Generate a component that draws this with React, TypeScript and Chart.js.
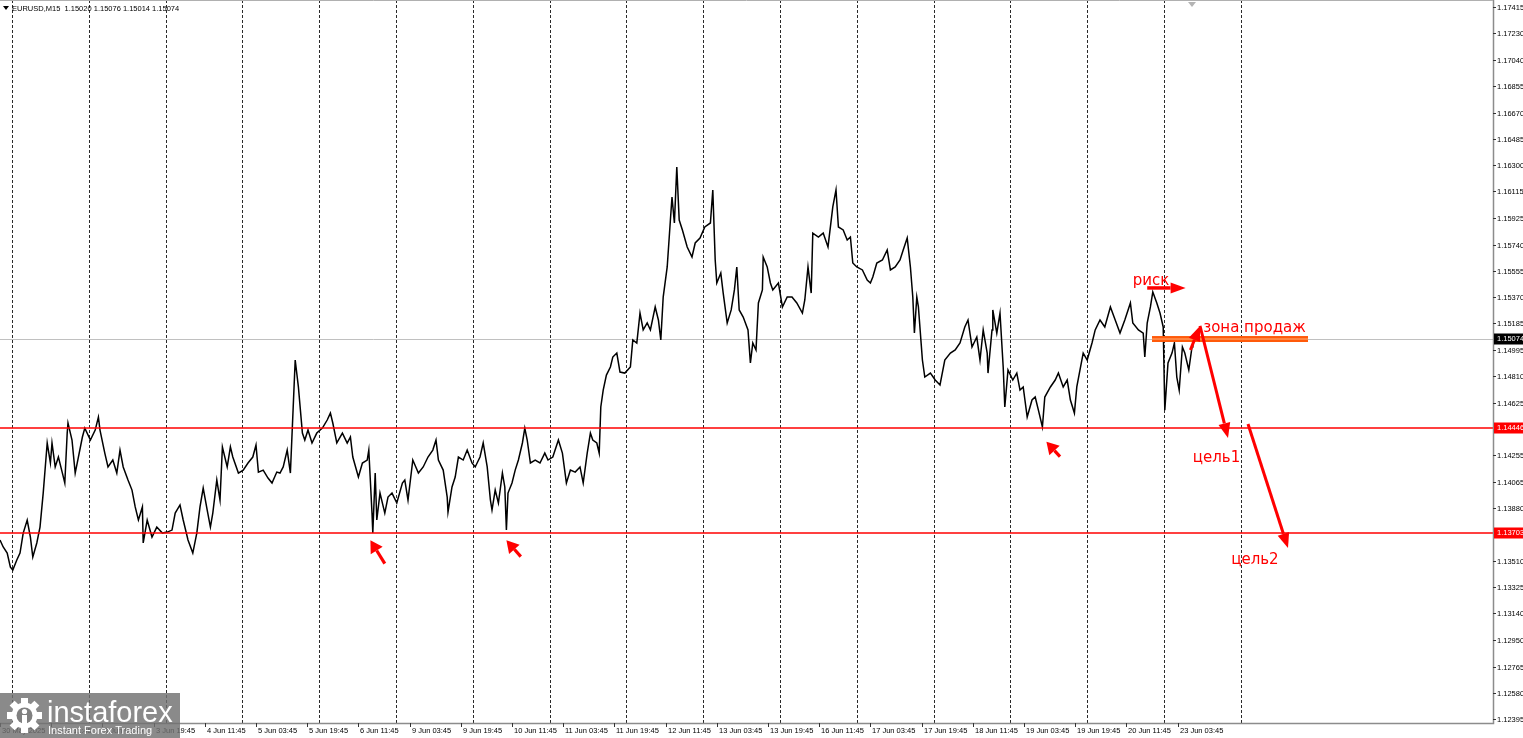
import React, { useEffect, useRef } from "react";
import { Chart, registerables } from "chart.js";
Chart.register(...registerables);

const W = 1523;
const H = 738;

const headerText = "EURUSD,M15  1.15020 1.15076 1.15014 1.15074";

const timeLabels = [
  "30 May 2025", "2 Jun 11:45", "3 Jun 03:45", "3 Jun 19:45", "4 Jun 11:45", "5 Jun 03:45",
  "5 Jun 19:45", "6 Jun 11:45", "9 Jun 03:45", "9 Jun 19:45", "10 Jun 11:45", "11 Jun 03:45",
  "11 Jun 19:45", "12 Jun 11:45", "13 Jun 03:45", "13 Jun 19:45", "16 Jun 11:45", "17 Jun 03:45",
  "17 Jun 19:45", "18 Jun 11:45", "19 Jun 03:45", "19 Jun 19:45", "20 Jun 11:45", "23 Jun 03:45",
];
const timeLabelBars = [
  0, 64, 128, 192, 256, 320, 384, 448, 512, 576, 640, 704,
  768, 832, 896, 960, 1024, 1088, 1152, 1216, 1280, 1344, 1408, 1472,
];
const dayStartBars = [15, 111, 207, 303, 399, 495, 591, 687, 783, 879, 975, 1071, 1167, 1263, 1359, 1455, 1551];

const priceTicks = [
  1.17415, 1.1723, 1.1704, 1.16855, 1.1667, 1.16485, 1.163, 1.16115, 1.15925, 1.1574,
  1.15555, 1.1537, 1.15185, 1.14995, 1.1481, 1.14625, 1.14255, 1.14065, 1.1388,
  1.1351, 1.13325, 1.1314, 1.1295, 1.12765, 1.1258, 1.12395,
];
const levelPrices = [1.14446, 1.13703];
const bidPrice = 1.15074;
const barRange = [0, 1866.25];
const priceRange = [1.12367, 1.17464];
const shiftMarkerBar = 1490;

// [bar index, close]
const eurusdCloses: [number, number][] = [
  [0, 1.13657], [4, 1.13608], [9, 1.13565], [13, 1.13466], [16, 1.13445], [21, 1.13516], [25, 1.13565],
  [29, 1.13706], [34, 1.13798], [38, 1.13678], [41, 1.13537], [46, 1.13636], [50, 1.13748], [54, 1.13988],
  [59, 1.14341], [63, 1.142], [65, 1.14341], [69, 1.14172], [73, 1.14242], [78, 1.14129], [81, 1.14059],
  [84, 1.14411], [85, 1.14482], [90, 1.14362], [94, 1.14129], [98, 1.14242], [103, 1.14383], [106, 1.14446],
  [113, 1.14362], [119, 1.14432], [123, 1.14524], [125, 1.14432], [131, 1.1427], [135, 1.14172], [141, 1.14221],
  [146, 1.14129], [150, 1.14291], [154, 1.14172], [160, 1.1408], [165, 1.14009], [169, 1.1389], [173, 1.13798],
  [178, 1.1389], [179, 1.13636], [184, 1.13798], [190, 1.13678], [196, 1.13748], [203, 1.13706], [209, 1.13713],
  [215, 1.13727], [219, 1.13847], [225, 1.13904], [229, 1.13798], [235, 1.13657], [241, 1.13565], [246, 1.13706],
  [250, 1.1389], [254, 1.14023], [259, 1.13868], [263, 1.13748], [266, 1.13847], [271, 1.1408], [275, 1.13939],
  [278, 1.14313], [284, 1.14172], [288, 1.14313], [291, 1.14242], [298, 1.14129], [304, 1.1415], [310, 1.142],
  [316, 1.14242], [320, 1.14327], [323, 1.14136], [329, 1.1415], [335, 1.14094], [340, 1.14059], [346, 1.14136],
  [350, 1.14129], [354, 1.14172], [359, 1.14291], [363, 1.14129], [369, 1.14926], [373, 1.14736], [378, 1.14411],
  [381, 1.14362], [385, 1.14432], [390, 1.14341], [396, 1.14411], [403, 1.14446], [409, 1.14503], [413, 1.14552],
  [416, 1.14482], [421, 1.14341], [428, 1.14411], [434, 1.14341], [438, 1.14383], [441, 1.14242], [448, 1.14101],
  [453, 1.142], [459, 1.14221], [461, 1.14291], [465, 1.13847], [466, 1.13706], [469, 1.14129], [471, 1.13798],
  [475, 1.13988], [481, 1.13847], [485, 1.1396], [490, 1.13988], [496, 1.13918], [503, 1.14059], [506, 1.1408],
  [510, 1.13939], [516, 1.14221], [523, 1.14129], [529, 1.14172], [535, 1.14242], [541, 1.14291], [545, 1.14362],
  [548, 1.14221], [554, 1.1415], [559, 1.1396], [560, 1.13854], [565, 1.14031], [569, 1.14101], [573, 1.14242],
  [579, 1.14221], [584, 1.14291], [590, 1.142], [594, 1.14172], [600, 1.14242], [604, 1.14341], [609, 1.14172],
  [613, 1.13939], [615, 1.13868], [619, 1.14009], [623, 1.13918], [628, 1.14129], [631, 1.14031], [633, 1.13727],
  [635, 1.13988], [640, 1.14059], [644, 1.1415], [648, 1.14221], [653, 1.14341], [656, 1.14446], [659, 1.14362],
  [663, 1.142], [669, 1.14221], [675, 1.142], [681, 1.1427], [685, 1.14221], [691, 1.14242], [698, 1.14362],
  [703, 1.1427], [708, 1.14059], [713, 1.1415], [719, 1.14136], [725, 1.14172], [729, 1.14059], [734, 1.1427],
  [738, 1.14411], [741, 1.14362], [746, 1.14341], [749, 1.1427], [751, 1.14595], [754, 1.14714], [758, 1.1482],
  [763, 1.14877], [766, 1.14947], [771, 1.14975], [775, 1.14841], [781, 1.14834], [788, 1.14877], [791, 1.15067],
  [796, 1.15046], [800, 1.15257], [804, 1.15138], [809, 1.15187], [813, 1.15138], [819, 1.153], [823, 1.15208],
  [826, 1.15067], [829, 1.1537], [834, 1.15582], [838, 1.15913], [840, 1.16075], [843, 1.15892], [846, 1.16287],
  [849, 1.15913], [853, 1.15843], [859, 1.15723], [865, 1.15652], [869, 1.15751], [875, 1.15786], [881, 1.15864],
  [888, 1.15892], [891, 1.16125], [894, 1.15631], [896, 1.15469], [901, 1.15539], [904, 1.15398], [909, 1.15187],
  [914, 1.15279], [918, 1.1542], [921, 1.15582], [924, 1.15279], [929, 1.15229], [935, 1.15138], [938, 1.14905],
  [941, 1.15046], [945, 1.14997], [948, 1.15328], [953, 1.1542], [954, 1.15652], [959, 1.15582], [963, 1.15469],
  [966, 1.1542], [973, 1.15469], [978, 1.153], [984, 1.1537], [990, 1.1537], [996, 1.15328], [1003, 1.15257],
  [1006, 1.15349], [1010, 1.15582], [1014, 1.15398], [1016, 1.15821], [1023, 1.15793], [1029, 1.15821], [1035, 1.15723],
  [1041, 1.16005], [1045, 1.16125], [1048, 1.15864], [1054, 1.15843], [1059, 1.15772], [1063, 1.15793], [1066, 1.1561],
  [1071, 1.15582], [1078, 1.15561], [1084, 1.1549], [1088, 1.15469], [1091, 1.15511], [1096, 1.1561], [1103, 1.15631],
  [1109, 1.15702], [1113, 1.15561], [1119, 1.15582], [1125, 1.15631], [1129, 1.15702], [1134, 1.15786], [1138, 1.15582],
  [1141, 1.1537], [1143, 1.15116], [1146, 1.1537], [1148, 1.153], [1153, 1.14926], [1156, 1.14806], [1163, 1.14834],
  [1169, 1.14785], [1175, 1.1475], [1181, 1.14926], [1188, 1.14975], [1194, 1.14997], [1200, 1.15046], [1206, 1.15159],
  [1210, 1.15208], [1215, 1.15018], [1221, 1.15088], [1225, 1.14926], [1229, 1.15138], [1234, 1.14975], [1235, 1.14834],
  [1240, 1.15138], [1241, 1.15279], [1246, 1.15116], [1250, 1.15257], [1254, 1.14877], [1256, 1.14595], [1260, 1.14856],
  [1266, 1.14785], [1271, 1.14834], [1275, 1.14714], [1279, 1.14736], [1284, 1.14524], [1290, 1.14644], [1294, 1.14665],
  [1298, 1.14573], [1303, 1.14454], [1306, 1.14665], [1313, 1.14736], [1319, 1.14785], [1323, 1.14834], [1329, 1.14736],
  [1334, 1.14785], [1338, 1.14644], [1343, 1.14552], [1346, 1.14736], [1350, 1.14856], [1354, 1.14975], [1359, 1.14926],
  [1365, 1.15046], [1369, 1.15138], [1375, 1.15208], [1381, 1.15159], [1388, 1.153], [1394, 1.15208], [1400, 1.15116],
  [1406, 1.15208], [1413, 1.15328], [1416, 1.15187], [1423, 1.15138], [1429, 1.15116], [1431, 1.14947], [1434, 1.15187],
  [1438, 1.153], [1441, 1.15406], [1446, 1.15328], [1450, 1.15257], [1454, 1.15159], [1456, 1.14573], [1460, 1.14905],
  [1465, 1.14975], [1468, 1.15046], [1471, 1.14806], [1474, 1.14714], [1478, 1.15018], [1481, 1.14975], [1486, 1.14856],
  [1490, 1.15018], [1491, 1.15074],
];

// annotations in (bar, price)
const riskArrow = { from: [1434, 1.15434], to: [1482, 1.15434] };
const sellZoneBars = [1440, 1635];
const sellZonePrices = [1.15053, 1.15095];
const tradeArrows = [
  { from: [1488, 1.14997], to: [1500, 1.15166] },
  { from: [1500, 1.15166], to: [1535, 1.14376] },
  { from: [1560, 1.14475], to: [1610, 1.136] },
];
const markerArrows = [
  { from: [481, 1.13490], to: [463, 1.13655] },
  { from: [651, 1.13540], to: [633, 1.13655] },
  { from: [1325, 1.14245], to: [1308, 1.14350] },
];
const notes = [
  { text: "риск", bar: 1416, price: 1.15455 },
  { text: "зона продаж", bar: 1504, price: 1.15123 },
  { text: "цель1", bar: 1491, price: 1.14207 },
  { text: "цель2", bar: 1539, price: 1.13488 },
];

const SMALL = '7.5px "Liberation Sans", Arial, sans-serif';

function drawArrow(ctx: CanvasRenderingContext2D, x0: number, y0: number, x1: number, y1: number, lw: number, hl: number, hw: number) {
  const a = Math.atan2(y1 - y0, x1 - x0);
  const bx = x1 - hl * Math.cos(a);
  const by = y1 - hl * Math.sin(a);
  ctx.strokeStyle = "#ff0000";
  ctx.fillStyle = "#ff0000";
  ctx.lineWidth = lw;
  ctx.setLineDash([]);
  ctx.beginPath();
  ctx.moveTo(x0, y0);
  ctx.lineTo(bx, by);
  ctx.stroke();
  ctx.beginPath();
  ctx.moveTo(x1, y1);
  ctx.lineTo(bx + hw * Math.sin(a), by - hw * Math.cos(a));
  ctx.lineTo(bx - hw * Math.sin(a), by + hw * Math.cos(a));
  ctx.closePath();
  ctx.fill();
}

const mtPlugin = {
  id: "mt4",
  beforeDatasetsDraw(chart: any) {
    const { ctx, chartArea: a, scales } = chart;
    const xs = scales.x, ys = scales.y;
    ctx.save();
    ctx.strokeStyle = "#2a2a2a";
    ctx.lineWidth = 1;
    ctx.setLineDash([3, 2]);
    dayStartBars.forEach((b) => {
      const px = Math.round(xs.getPixelForValue(b)) + 0.5;
      ctx.beginPath();
      ctx.moveTo(px, a.top);
      ctx.lineTo(px, a.bottom);
      ctx.stroke();
    });
    ctx.setLineDash([]);
    const by = Math.round(ys.getPixelForValue(bidPrice)) + 0.5;
    ctx.strokeStyle = "#c0c0c0";
    ctx.beginPath();
    ctx.moveTo(a.left, by);
    ctx.lineTo(a.right, by);
    ctx.stroke();
    ctx.restore();
  },
  afterDatasetsDraw(chart: any) {
    const { ctx, chartArea: a, scales } = chart;
    const xs = scales.x, ys = scales.y;
    const X = (v: number) => xs.getPixelForValue(v);
    const Y = (v: number) => ys.getPixelForValue(v);
    ctx.save();

    ctx.strokeStyle = "#ff0000";
    ctx.lineWidth = 1.6;
    levelPrices.forEach((p) => {
      const py = Math.round(Y(p));
      ctx.beginPath();
      ctx.moveTo(a.left, py);
      ctx.lineTo(a.right, py);
      ctx.stroke();
    });

    const zx0 = X(sellZoneBars[0]), zx1 = X(sellZoneBars[1]);
    const zy0 = Y(sellZonePrices[1]), zy1 = Y(sellZonePrices[0]);
    ctx.fillStyle = "#ff5a0a";
    ctx.fillRect(zx0, zy0, zx1 - zx0, zy1 - zy0);
    ctx.strokeStyle = "#ffb27a";
    ctx.lineWidth = 1;
    ctx.beginPath();
    ctx.moveTo(zx0, (zy0 + zy1) / 2);
    ctx.lineTo(zx1, (zy0 + zy1) / 2);
    ctx.stroke();

    drawArrow(ctx, X(riskArrow.from[0]), Y(riskArrow.from[1]), X(riskArrow.to[0]), Y(riskArrow.to[1]), 3.5, 15, 5.5);
    tradeArrows.forEach((t) => drawArrow(ctx, X(t.from[0]), Y(t.from[1]), X(t.to[0]), Y(t.to[1]), 3, 15, 6));
    markerArrows.forEach((t) => drawArrow(ctx, X(t.from[0]), Y(t.from[1]), X(t.to[0]), Y(t.to[1]), 3.2, 12, 7));

    ctx.fillStyle = "#ff0000";
    ctx.font = '15px "DejaVu Sans", sans-serif';
    ctx.textBaseline = "alphabetic";
    ctx.textAlign = "left";
    notes.forEach((n) => ctx.fillText(n.text, X(n.bar), Y(n.price)));

    ctx.restore();
  },
  afterDraw(chart: any) {
    const { ctx, chartArea: a, scales } = chart;
    const xs = scales.x, ys = scales.y;
    ctx.save();
    ctx.setLineDash([]);

    ctx.strokeStyle = "#8c8c8c";
    ctx.lineWidth = 1.5;
    ctx.beginPath();
    ctx.moveTo(a.right + 0.5, 0);
    ctx.lineTo(a.right + 0.5, a.bottom + 0.5);
    ctx.lineTo(0, a.bottom + 0.5);
    ctx.stroke();
    ctx.strokeStyle = "#b0b0b0";
    ctx.lineWidth = 1;
    ctx.beginPath();
    ctx.moveTo(0, 0.5);
    ctx.lineTo(a.right, 0.5);
    ctx.stroke();

    ctx.font = SMALL;
    ctx.textBaseline = "middle";
    ctx.textAlign = "left";
    ctx.strokeStyle = "#333";
    ctx.lineWidth = 1;
    priceTicks.forEach((p) => {
      const py = Math.round(ys.getPixelForValue(p)) + 0.5;
      ctx.beginPath();
      ctx.moveTo(a.right, py);
      ctx.lineTo(a.right + 3, py);
      ctx.stroke();
      ctx.fillStyle = "#000";
      ctx.fillText(p.toFixed(5), a.right + 4, py);
    });
    levelPrices.forEach((p) => {
      const py = Math.round(ys.getPixelForValue(p));
      ctx.fillStyle = "#ff0000";
      ctx.fillRect(a.right + 1, py - 5.5, W - a.right, 11);
      ctx.fillStyle = "#ffffff";
      ctx.fillText(p.toFixed(5), a.right + 4, py);
    });
    const bpy = Math.round(ys.getPixelForValue(bidPrice));
    ctx.fillStyle = "#000";
    ctx.fillRect(a.right + 1, bpy - 5.5, W - a.right, 11);
    ctx.fillStyle = "#fff";
    ctx.fillText(bidPrice.toFixed(5), a.right + 4, bpy);

    ctx.strokeStyle = "#333";
    timeLabels.forEach((lbl, i) => {
      const px = Math.round(xs.getPixelForValue(timeLabelBars[i])) + 0.5;
      ctx.beginPath();
      ctx.moveTo(px, a.bottom);
      ctx.lineTo(px, a.bottom + 4);
      ctx.stroke();
      ctx.fillStyle = "#000";
      ctx.fillText(lbl, px + 1.5, a.bottom + 7.5);
    });

    ctx.fillStyle = "#000";
    ctx.beginPath();
    ctx.moveTo(3, 6);
    ctx.lineTo(9, 6);
    ctx.lineTo(6, 10);
    ctx.closePath();
    ctx.fill();
    ctx.fillText(headerText, 12, 8.5);

    const sx = xs.getPixelForValue(shiftMarkerBar);
    ctx.fillStyle = "#b4b4b4";
    ctx.beginPath();
    ctx.moveTo(sx - 4, 2);
    ctx.lineTo(sx + 4, 2);
    ctx.lineTo(sx, 7);
    ctx.closePath();
    ctx.fill();

    ctx.fillStyle = "rgba(112,112,112,0.82)";
    ctx.fillRect(0, 693, 180, 45);
    const cx = 24.5, cy = 715.5;
    ctx.fillStyle = "#ffffff";
    for (let k = 0; k < 8; k++) {
      ctx.save();
      ctx.translate(cx, cy);
      ctx.rotate((k * Math.PI) / 4);
      ctx.fillRect(-3.5, -17.5, 7, 8);
      ctx.restore();
    }
    ctx.beginPath();
    ctx.arc(cx, cy, 13, 0, Math.PI * 2);
    ctx.fill();
    ctx.fillStyle = "rgb(128,128,128)";
    ctx.beginPath();
    ctx.arc(cx, cy, 8, 0, Math.PI * 2);
    ctx.fill();
    ctx.fillStyle = "#ffffff";
    ctx.beginPath();
    ctx.arc(cx, cy - 4, 2.6, 0, Math.PI * 2);
    ctx.fill();
    ctx.fillRect(cx - 2.5, cy - 0.5, 5, 14);
    ctx.font = '29px "Liberation Sans", Arial, sans-serif';
    ctx.textBaseline = "alphabetic";
    ctx.fillText("instaforex", 47, 722);
    ctx.font = '11px "Liberation Sans", Arial, sans-serif';
    ctx.fillText("Instant Forex Trading", 48, 734);

    ctx.restore();
  },
};

export default function App() {
  const ref = useRef<HTMLCanvasElement>(null);
  useEffect(() => {
    document.body.style.margin = "0";
    const canvas = ref.current!;
    const chart = new Chart(canvas, {
      type: "line",
      data: {
        datasets: [
          {
            data: eurusdCloses.map(([b, c]) => ({ x: b, y: c })),
            borderColor: "#000000",
            borderWidth: 1.5,
            pointRadius: 0,
            tension: 0,
            fill: false,
          },
        ],
      },
      options: {
        animation: false,
        responsive: false,
        devicePixelRatio: 1,
        layout: { padding: { left: 0, top: 0, right: 30, bottom: 15 } },
        plugins: { legend: { display: false }, tooltip: { enabled: false } },
        scales: {
          x: { type: "linear", min: barRange[0], max: barRange[1], display: false },
          y: { type: "linear", min: priceRange[0], max: priceRange[1], display: false },
        },
      },
      plugins: [mtPlugin],
    });
    return () => chart.destroy();
  }, []);
  return (
    <div style={{ width: W, height: H, background: "#fff" }}>
      <canvas ref={ref} width={W} height={H} style={{ display: "block", width: W, height: H }} />
    </div>
  );
}
